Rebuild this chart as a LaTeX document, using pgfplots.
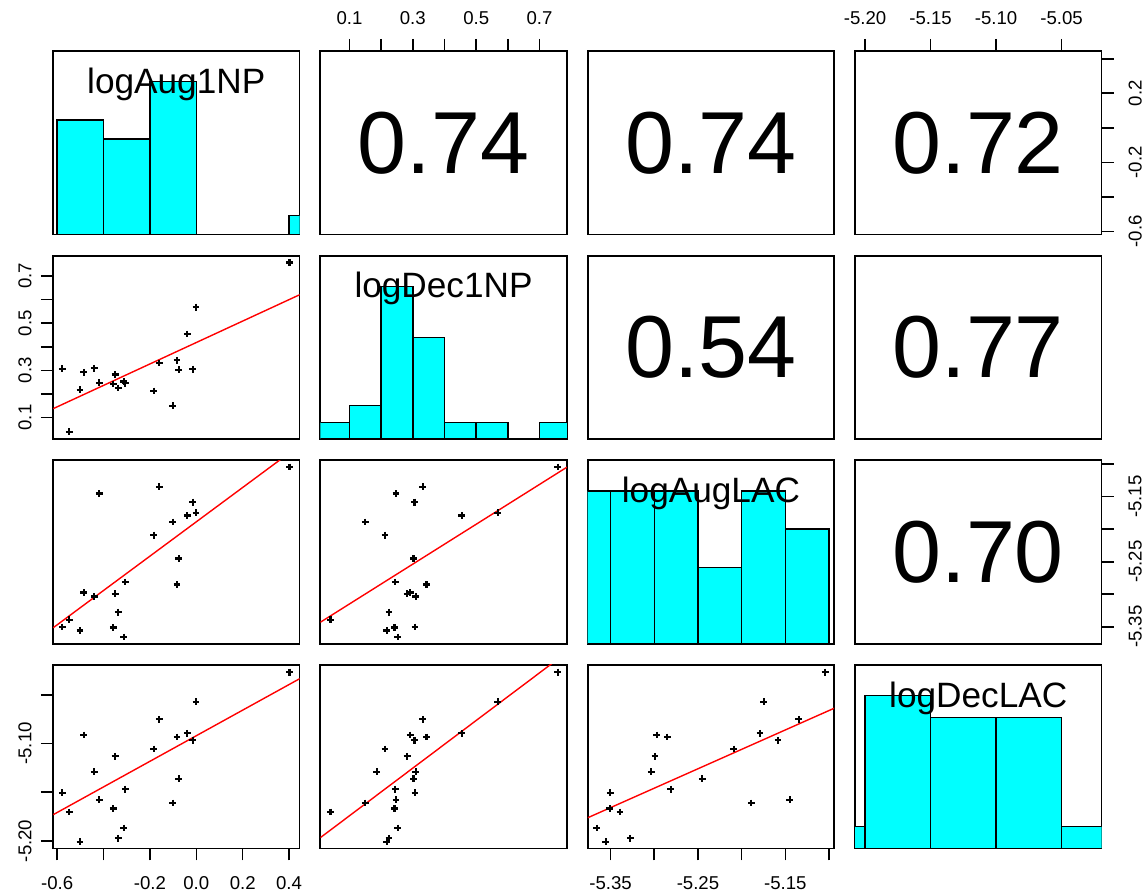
\documentclass[border=0pt]{standalone}
\usepackage{fontspec}
\setmainfont{Liberation Sans}
\usepackage{pgfplots}
\pgfplotsset{compat=1.18}
\usepackage{pgfplotstable}
\definecolor{rcyan}{RGB}{0,255,255}
\definecolor{rred}{RGB}{255,0,0}

% v1=logAug1NP v2=logDec1NP v3=logAugLAC v4=logDecLAC
\pgfplotstableread{
v1 v2 v3 v4
-0.578 0.307 -5.3505 -5.1505
-0.548 0.040 -5.3393 -5.1703
-0.502 0.218 -5.3557 -5.2007
-0.486 0.292 -5.2973 -5.0912
-0.440 0.309 -5.3034 -5.1291
-0.418 0.247 -5.1450 -5.1577
-0.358 0.242 -5.3510 -5.1666
-0.350 0.282 -5.2992 -5.1131
-0.336 0.225 -5.3275 -5.1972
-0.313 0.2526 -5.3657 -5.1867
-0.306 0.245 -5.2813 -5.1468
-0.183 0.212 -5.2091 -5.1056
-0.160 0.331 -5.1347 -5.0752
-0.101 0.150 -5.1889 -5.1611
-0.083 0.343 -5.2851 -5.0933
-0.076 0.302 -5.2450 -5.1362
-0.039 0.454 -5.1790 -5.0895
-0.015 0.305 -5.1584 -5.0967
-0.001 0.568 -5.1748 -5.0572
0.402 0.757 -5.1045 -5.0268
nan 0.186 nan -5.1290
}\pairsdata

% histogram breaks and relative heights (count / max count)
\pgfplotstableread{
x h
-0.6 0.75
-0.4 0.625
-0.2 1
0.0 0
0.2 0
0.4 0.125
0.6 0
}\histA
\pgfplotstableread{
x h
0.0 0.1111
0.1 0.2222
0.2 1
0.3 0.6667
0.4 0.1111
0.5 0.1111
0.6 0
0.7 0.1111
0.8 0
}\histB
\pgfplotstableread{
x h
-5.40 1
-5.35 1
-5.30 1
-5.25 0.5
-5.20 1
-5.15 0.75
-5.10 0
}\histC
\pgfplotstableread{
x h
-5.25 0.1429
-5.20 1
-5.15 0.8571
-5.10 0.8571
-5.05 0.1429
-5.00 0
}\histD

\def\xa{-0.618}\def\xb{0.445}
\def\ya{0.008}\def\yb{0.786}
\def\za{-5.3762}\def\zb{-5.0941}
\def\wa{-5.2077}\def\wb{-5.0195}

\tikzset{
  corr/.style={font=\fontsize{44}{50}\selectfont},
  diag/.style={anchor=base, font=\fontsize{17.6}{20}\selectfont},
}
\pgfplotsset{
  panel/.style={
    scale only axis, width=123.25pt, height=91.75pt, anchor=south west,
    axis line style={line width=0.9pt},
    xtick=\empty, ytick=\empty,
    tick align=outside, major tick length=6pt,
    every tick/.style={black, line width=0.8pt},
    tick label style={font=\fontsize{9.3}{11}\selectfont},
    /pgf/number format/assume math mode=true,
  },
  topx/.style={xtick pos=right, xticklabel pos=right, xticklabel style={yshift=3.5pt}},
  botx/.style={xtick pos=left, xticklabel pos=left, xticklabel style={yshift=-4.5pt}},
  lefty/.style={ytick pos=left, yticklabel pos=left,
    yticklabel style={xshift=-1.2pt, rotate=90, anchor=south}},
  righty/.style={ytick pos=right, yticklabel pos=right,
    yticklabel style={xshift=4pt, rotate=90, anchor=north}},
  V1x/.style={xmin=\xa, xmax=\xb},
  V2x/.style={xmin=\ya, xmax=\yb},
  V3x/.style={xmin=\za, xmax=\zb},
  V4x/.style={xmin=\wa, xmax=\wb},
  V1y/.style={ymin=\xa, ymax=\xb},
  V2y/.style={ymin=\ya, ymax=\yb},
  V3y/.style={ymin=\za, ymax=\zb},
  V4y/.style={ymin=\wa, ymax=\wb},
  Hy/.style={ymin=0, ymax=1.2},
  pts/.style={only marks, mark=+, mark size=1.7pt, black, line width=1.1pt},
  fit/.style={rred, line width=0.7pt, no marks},
  hist/.style={ybar interval, fill=rcyan, draw=black, line width=0.7pt},
}

\begin{document}
\begin{tikzpicture}
\useasboundingbox (0,0) rectangle (574pt,447.5pt);

% ---------------- row 1 ----------------
\begin{axis}[panel, V1x, Hy, at={(26.5pt,330.25pt)}]
\addplot[hist] table[x=x,y=h] {\histA};
\node[diag] at (rel axis cs:0.5,0.771) {logAug1NP};
\end{axis}

\begin{axis}[panel, V2x, V1y, at={(160.15pt,330.25pt)},
  xtick={0.1,0.2,0.3,0.4,0.5,0.6,0.7},
  xticklabels={0.1,,0.3,,0.5,,0.7}, topx]
\node[corr] at (rel axis cs:0.5,0.5) {0.74};
\end{axis}

\begin{axis}[panel, V3x, V1y, at={(293.85pt,330.25pt)}]
\node[corr] at (rel axis cs:0.5,0.5) {0.74};
\end{axis}

\begin{axis}[panel, V4x, V1y, at={(427.5pt,330.25pt)},
  xtick={-5.20,-5.15,-5.10,-5.05},
  xticklabels={-5.20,-5.15,-5.10,-5.05}, topx,
  ytick={-0.6,-0.4,-0.2,0,0.2,0.4},
  yticklabels={-0.6,,-0.2,,0.2,}, righty]
\node[corr] at (rel axis cs:0.5,0.5) {0.72};
\end{axis}

% ---------------- row 2 ----------------
\begin{axis}[panel, V1x, V2y, at={(26.5pt,227.9pt)},
  ytick={0.1,0.2,0.3,0.4,0.5,0.6,0.7},
  yticklabels={0.1,,0.3,,0.5,,0.7}, lefty]
\addplot[fit] coordinates {(-0.617,0.1375) (0.4506,0.6227)};
\addplot[pts] table[x=v1,y=v2] {\pairsdata};
\end{axis}

\begin{axis}[panel, V2x, Hy, at={(160.15pt,227.9pt)}]
\addplot[hist] table[x=x,y=h] {\histB};
\node[diag] at (rel axis cs:0.5,0.771) {logDec1NP};
\end{axis}

\begin{axis}[panel, V3x, V2y, at={(293.85pt,227.9pt)}]
\node[corr] at (rel axis cs:0.5,0.5) {0.54};
\end{axis}

\begin{axis}[panel, V4x, V2y, at={(427.5pt,227.9pt)}]
\node[corr] at (rel axis cs:0.5,0.5) {0.77};
\end{axis}

% ---------------- row 3 ----------------
\begin{axis}[panel, V1x, V3y, at={(26.5pt,125.6pt)}]
\addplot[fit] coordinates {(-0.617,-5.3515) (0.5,-5.0567)};
\addplot[pts] table[x=v1,y=v3] {\pairsdata};
\end{axis}

\begin{axis}[panel, V2x, V3y, at={(160.15pt,125.6pt)}]
\addplot[fit] coordinates {(0.0085,-5.343) (0.7867,-5.1046)};
\addplot[pts] table[x=v2,y=v3] {\pairsdata};
\end{axis}

\begin{axis}[panel, V3x, Hy, at={(293.85pt,125.6pt)}]
\addplot[hist] table[x=x,y=h] {\histC};
\node[diag] at (rel axis cs:0.5,0.771) {logAugLAC};
\end{axis}

\begin{axis}[panel, V4x, V3y, at={(427.5pt,125.6pt)},
  ytick={-5.35,-5.30,-5.25,-5.20,-5.15,-5.10},
  yticklabels={-5.35,,-5.25,,-5.15,}, righty]
\node[corr] at (rel axis cs:0.5,0.5) {0.70};
\end{axis}

% ---------------- row 4 ----------------
\begin{axis}[panel, V1x, V4y, at={(26.5pt,23.25pt)},
  xtick={-0.6,-0.4,-0.2,0,0.2,0.4},
  xticklabels={-0.6,,-0.2,0.0,0.2,0.4}, botx,
  ytick={-5.20,-5.15,-5.10,-5.05},
  yticklabels={-5.20,,-5.10,}, lefty]
\addplot[fit] coordinates {(-0.617,-5.173) (0.4506,-5.0329)};
\addplot[pts] table[x=v1,y=v4] {\pairsdata};
\end{axis}

\begin{axis}[panel, V2x, V4y, at={(160.15pt,23.25pt)}]
\addplot[fit] coordinates {(0.0085,-5.1965) (0.8,-5.0031)};
\addplot[pts] table[x=v2,y=v4] {\pairsdata};
\end{axis}

\begin{axis}[panel, V3x, V4y, at={(293.85pt,23.25pt)},
  xtick={-5.35,-5.30,-5.25,-5.20,-5.15,-5.10},
  xticklabels={-5.35,,-5.25,,-5.15,}, botx]
\addplot[fit] coordinates {(-5.376,-5.1761) (-5.0935,-5.0636)};
\addplot[pts] table[x=v3,y=v4] {\pairsdata};
\end{axis}

\begin{axis}[panel, V4x, Hy, at={(427.5pt,23.25pt)}]
\addplot[hist] table[x=x,y=h] {\histD};
\node[diag] at (rel axis cs:0.5,0.771) {logDecLAC};
\end{axis}

\end{tikzpicture}
\end{document}
